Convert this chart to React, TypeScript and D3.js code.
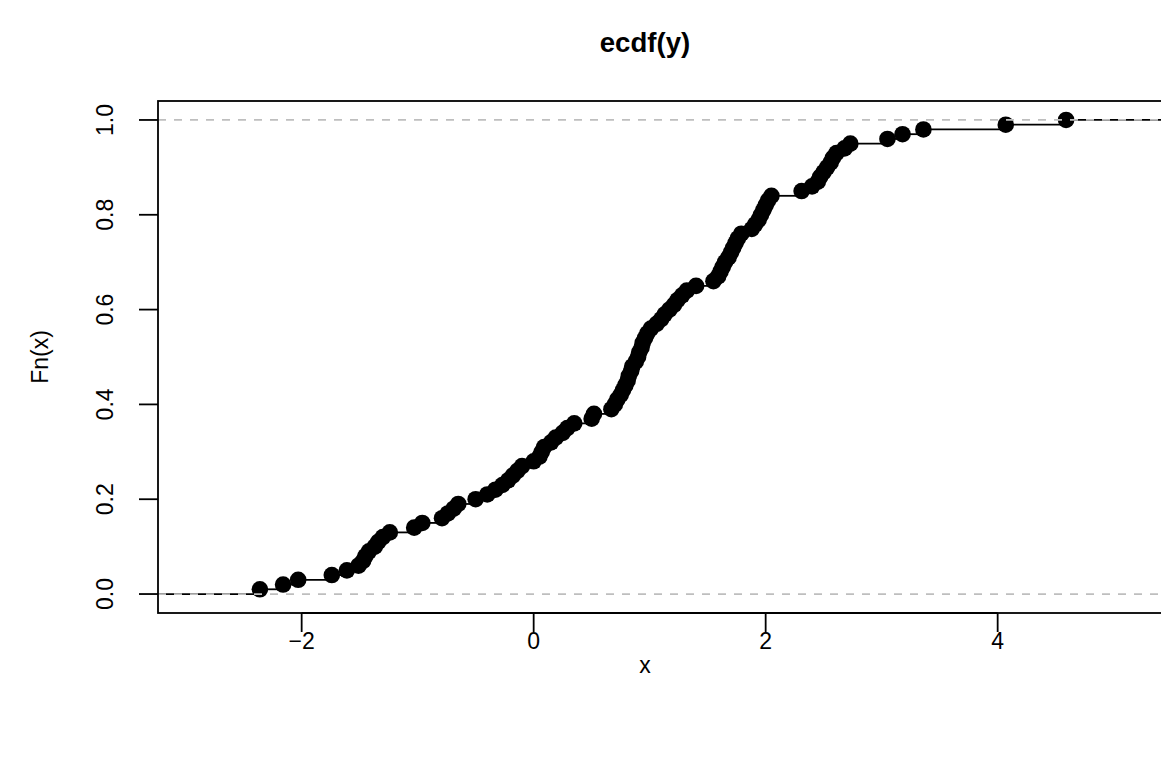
import React from "react";
import * as d3 from "d3";

const xValues: number[] = [
  -2.36, -2.16, -2.03, -1.74, -1.61, -1.51, -1.47, -1.45, -1.42, -1.37,
  -1.34, -1.30, -1.24, -1.03, -0.96, -0.79, -0.74, -0.69, -0.65, -0.50,
  -0.40, -0.33, -0.27, -0.22, -0.18, -0.14, -0.10, 0.00, 0.05, 0.07,
  0.09, 0.15, 0.19, 0.25, 0.29, 0.35, 0.50, 0.52, 0.67, 0.70,
  0.72, 0.75, 0.77, 0.79, 0.81, 0.82, 0.84, 0.85, 0.88, 0.90,
  0.91, 0.93, 0.94, 0.96, 0.98, 1.01, 1.06, 1.10, 1.13, 1.17,
  1.21, 1.24, 1.28, 1.32, 1.40, 1.55, 1.59, 1.61, 1.63, 1.65,
  1.68, 1.70, 1.72, 1.74, 1.76, 1.79, 1.88, 1.91, 1.94, 1.96,
  1.98, 2.00, 2.02, 2.05, 2.31, 2.40, 2.45, 2.47, 2.50, 2.53,
  2.56, 2.58, 2.61, 2.68, 2.73, 3.05, 3.18, 3.36, 4.07, 4.59,
];

const xTicks: number[] = [-2, 0, 2, 4];
const yTicks: number[] = [0, 0.2, 0.4, 0.6, 0.8, 1.0];
const titleText = "ecdf(y)";
const xLabel = "x";
const yLabel = "Fn(x)";

const W = 1161;
const H = 761;
const left = 158;
const right = 1168;
const top = 101;
const bottom = 613;
const FONT = "'Liberation Sans', Arial, Helvetica, sans-serif";
const AXF = 23;
const TITF = 27.6;

export default function App() {
  const n = xValues.length;
  const pts = xValues.map((x, i) => ({ x, y: (i + 1) / n }));
  const rx = d3.extent(xValues) as [number, number];
  const diffs = d3.pairs(xValues).map(([a, b]) => b - a);
  const dr = Math.max(0.08 * (rx[1] - rx[0]), d3.median(diffs) || 0);
  const xl0 = rx[0] - dr;
  const xl1 = rx[1] + dr;
  const ext = 0.04 * (xl1 - xl0);
  const x = d3.scaleLinear().domain([xl0 - ext, xl1 + ext]).range([left, right]);
  const y = d3.scaleLinear().domain([-0.04, 1.04]).range([bottom, top]);

  const knots = [x.invert(left - 50), ...xValues, x.invert(right + 50)];
  const levels = [0, ...pts.map((p) => p.y)];
  const segs = levels.map((lv, i) => ({ x0: knots[i], x1: knots[i + 1], y: lv }));

  return (
    <svg
      width={W}
      height={H}
      style={{ position: "absolute", left: 0, top: 0, background: "#fff" }}
      fontFamily={FONT}
    >
      <defs>
        <clipPath id="plotclip">
          <rect x={left} y={top} width={right - left} height={bottom - top} />
        </clipPath>
      </defs>
      <rect x={0} y={0} width={W} height={H} fill="#fff" />
      <g clipPath="url(#plotclip)">
        {segs.map((s, i) => (
          <line
            key={"s" + i}
            x1={x(s.x0)}
            x2={x(s.x1)}
            y1={y(s.y)}
            y2={y(s.y)}
            stroke="#000"
            strokeWidth={1.8}
          />
        ))}
        {pts.map((p, i) => (
          <circle key={"p" + i} cx={x(p.x)} cy={y(p.y)} r={8.3} fill="#000" />
        ))}
        {[0, 1].map((h) => (
          <line
            key={"h" + h}
            x1={left}
            x2={right}
            y1={y(h)}
            y2={y(h)}
            stroke="#BEBEBE"
            strokeWidth={1.8}
            strokeDasharray="8,8"
          />
        ))}
      </g>
      <rect
        x={left}
        y={top}
        width={right - left}
        height={bottom - top}
        fill="none"
        stroke="#000"
        strokeWidth={1.8}
      />
      <line x1={x(xTicks[0])} x2={x(xTicks[xTicks.length - 1])} y1={bottom} y2={bottom} stroke="#000" strokeWidth={1.8} />
      {xTicks.map((t) => (
        <g key={"xt" + t}>
          <line x1={x(t)} x2={x(t)} y1={bottom} y2={bottom + 19} stroke="#000" strokeWidth={1.8} />
          <text x={x(t)} y={bottom + 28} fontSize={AXF} textAnchor="middle" dominantBaseline="central">
            {t < 0 ? "\u2212" + Math.abs(t) : String(t)}
          </text>
        </g>
      ))}
      {yTicks.map((t) => (
        <g key={"yt" + t}>
          <line x1={left} x2={left - 19} y1={y(t)} y2={y(t)} stroke="#000" strokeWidth={1.8} />
          <text
            transform={`translate(${left - 53},${y(t)}) rotate(-90)`}
            fontSize={AXF}
            textAnchor="middle"
            dominantBaseline="central"
          >
            {t.toFixed(1)}
          </text>
        </g>
      ))}
      <text x={645} y={42} fontSize={TITF} fontWeight="bold" textAnchor="middle" dominantBaseline="central">
        {titleText}
      </text>
      <text x={645} y={665} fontSize={AXF} textAnchor="middle" dominantBaseline="central">
        {xLabel}
      </text>
      <text
        transform={`translate(40,${(top + bottom) / 2}) rotate(-90)`}
        fontSize={AXF}
        textAnchor="middle"
        dominantBaseline="central"
      >
        {yLabel}
      </text>
    </svg>
  );
}
